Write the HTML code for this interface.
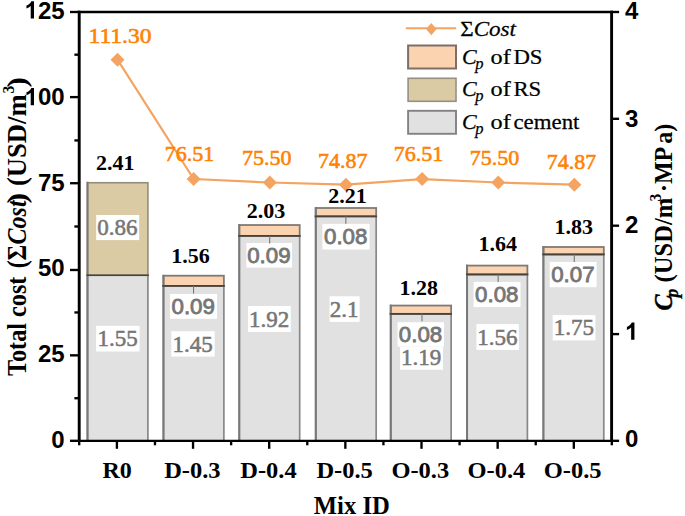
<!DOCTYPE html>
<html><head><meta charset="utf-8"><title>Chart</title>
<style>html,body{margin:0;padding:0;background:#fff}svg{display:block}</style></head>
<body>
<svg width="685" height="516" viewBox="0 0 685 516">
<rect width="685" height="516" fill="#fff"/>
<rect x="87.40" y="275.24" width="60.50" height="165.56" fill="#E1E1E1" stroke="#888888" stroke-width="1.7"/>
<rect x="87.40" y="182.75" width="60.50" height="92.49" fill="#DBCBA5" stroke="#958d7c" stroke-width="1.6"/>
<line x1="87.55" x2="87.55" y1="181.85" y2="440.80" stroke="#787878" stroke-width="2.0"/>
<line x1="86.45" x2="148.75" y1="275.24" y2="275.24" stroke="#47433a" stroke-width="1.7"/>
<rect x="163.37" y="285.96" width="60.50" height="154.84" fill="#E1E1E1" stroke="#888888" stroke-width="1.7"/>
<rect x="163.37" y="275.71" width="60.50" height="10.25" fill="#FBD3B0" stroke="#807a74" stroke-width="1.8"/>
<line x1="163.52" x2="163.52" y1="274.81" y2="440.80" stroke="#787878" stroke-width="2.0"/>
<line x1="162.42" x2="224.72" y1="285.96" y2="285.96" stroke="#47433a" stroke-width="1.7"/>
<rect x="239.18" y="235.88" width="60.50" height="204.92" fill="#E1E1E1" stroke="#888888" stroke-width="1.7"/>
<rect x="239.18" y="225.03" width="60.50" height="10.85" fill="#FBD3B0" stroke="#807a74" stroke-width="1.8"/>
<line x1="239.33" x2="239.33" y1="224.13" y2="440.80" stroke="#787878" stroke-width="2.0"/>
<line x1="238.23" x2="300.53" y1="235.88" y2="235.88" stroke="#47433a" stroke-width="1.7"/>
<rect x="315.67" y="216.28" width="60.50" height="224.52" fill="#E1E1E1" stroke="#888888" stroke-width="1.7"/>
<rect x="315.67" y="208.00" width="60.50" height="8.28" fill="#FBD3B0" stroke="#807a74" stroke-width="1.8"/>
<line x1="315.82" x2="315.82" y1="207.10" y2="440.80" stroke="#787878" stroke-width="2.0"/>
<line x1="314.72" x2="377.02" y1="216.28" y2="216.28" stroke="#47433a" stroke-width="1.7"/>
<rect x="390.65" y="313.83" width="60.50" height="126.97" fill="#E1E1E1" stroke="#888888" stroke-width="1.7"/>
<rect x="390.65" y="305.56" width="60.50" height="8.28" fill="#FBD3B0" stroke="#807a74" stroke-width="1.8"/>
<line x1="390.80" x2="390.80" y1="304.66" y2="440.80" stroke="#787878" stroke-width="2.0"/>
<line x1="389.70" x2="452.00" y1="313.83" y2="313.83" stroke="#47433a" stroke-width="1.7"/>
<rect x="466.90" y="274.47" width="60.50" height="166.33" fill="#E1E1E1" stroke="#888888" stroke-width="1.7"/>
<rect x="466.90" y="265.59" width="60.50" height="8.88" fill="#FBD3B0" stroke="#807a74" stroke-width="1.8"/>
<line x1="467.05" x2="467.05" y1="264.69" y2="440.80" stroke="#787878" stroke-width="2.0"/>
<line x1="465.95" x2="528.25" y1="274.47" y2="274.47" stroke="#47433a" stroke-width="1.7"/>
<rect x="543.30" y="254.40" width="60.50" height="186.40" fill="#E1E1E1" stroke="#888888" stroke-width="1.7"/>
<rect x="543.30" y="247.00" width="60.50" height="7.40" fill="#FBD3B0" stroke="#807a74" stroke-width="1.8"/>
<line x1="543.45" x2="543.45" y1="246.10" y2="440.80" stroke="#787878" stroke-width="2.0"/>
<line x1="542.35" x2="604.65" y1="254.40" y2="254.40" stroke="#47433a" stroke-width="1.7"/>
<g stroke="#000" stroke-width="2.35" fill="none" stroke-linecap="butt">
<path d="M611.8 12.0 H79.2 V440.8 H611.8" stroke-linecap="square"/>
<line x1="611.5999999999999" x2="611.5999999999999" y1="10.85" y2="441.95" stroke-width="2.9"/>
<line x1="79.10000000000001" x2="79.10000000000001" y1="10.85" y2="441.95" stroke-width="2.7"/>
<line x1="70.0" x2="79.2" y1="440.80" y2="440.80"/>
<line x1="70.0" x2="79.2" y1="355.34" y2="355.34"/>
<line x1="70.0" x2="79.2" y1="269.98" y2="269.98"/>
<line x1="70.0" x2="79.2" y1="183.22" y2="183.22"/>
<line x1="70.0" x2="79.2" y1="97.11" y2="97.11"/>
<line x1="70.0" x2="79.2" y1="12.00" y2="12.00"/>
<line x1="74.4" x2="79.2" y1="398.22" y2="398.22"/>
<line x1="74.4" x2="79.2" y1="312.46" y2="312.46"/>
<line x1="74.4" x2="79.2" y1="226.50" y2="226.50"/>
<line x1="74.4" x2="79.2" y1="140.44" y2="140.44"/>
<line x1="74.4" x2="79.2" y1="54.68" y2="54.68"/>
<line x1="611.8" x2="619.0999999999999" y1="440.80" y2="440.80"/>
<line x1="611.8" x2="619.0999999999999" y1="334.10" y2="334.10"/>
<line x1="611.8" x2="619.0999999999999" y1="225.70" y2="225.70"/>
<line x1="611.8" x2="619.0999999999999" y1="118.80" y2="118.80"/>
<line x1="611.8" x2="619.0999999999999" y1="12.00" y2="12.00"/>
<line x1="116.90" x2="116.90" y1="440.8" y2="448.8"/>
<line x1="193.05" x2="193.05" y1="440.8" y2="448.8"/>
<line x1="269.20" x2="269.20" y1="440.8" y2="448.8"/>
<line x1="345.35" x2="345.35" y1="440.8" y2="448.8"/>
<line x1="421.50" x2="421.50" y1="440.8" y2="448.8"/>
<line x1="497.65" x2="497.65" y1="440.8" y2="448.8"/>
<line x1="573.80" x2="573.80" y1="440.8" y2="448.8"/>
<line x1="79.20" x2="79.20" y1="440.8" y2="445.3"/>
<line x1="154.98" x2="154.98" y1="440.8" y2="445.3"/>
<line x1="231.12" x2="231.12" y1="440.8" y2="445.3"/>
<line x1="307.28" x2="307.28" y1="440.8" y2="445.3"/>
<line x1="383.43" x2="383.43" y1="440.8" y2="445.3"/>
<line x1="459.57" x2="459.57" y1="440.8" y2="445.3"/>
<line x1="535.73" x2="535.73" y1="440.8" y2="445.3"/>
<line x1="611.80" x2="611.80" y1="440.8" y2="445.3"/>
</g>
<polyline points="117.50,59.70 193.65,179.04 269.80,182.50 345.95,184.67 422.10,179.04 498.25,182.50 574.40,184.67" fill="none" stroke="#F4A460" stroke-width="2.2"/>
<path d="M117.50 52.70 L124.50 59.70 L117.50 66.70 L110.50 59.70 Z" fill="#F4A460"/>
<path d="M193.65 172.04 L200.65 179.04 L193.65 186.04 L186.65 179.04 Z" fill="#F4A460"/>
<path d="M269.80 175.50 L276.80 182.50 L269.80 189.50 L262.80 182.50 Z" fill="#F4A460"/>
<path d="M345.95 177.67 L352.95 184.67 L345.95 191.67 L338.95 184.67 Z" fill="#F4A460"/>
<path d="M422.10 172.04 L429.10 179.04 L422.10 186.04 L415.10 179.04 Z" fill="#F4A460"/>
<path d="M498.25 175.50 L505.25 182.50 L498.25 189.50 L491.25 182.50 Z" fill="#F4A460"/>
<path d="M574.40 177.67 L581.40 184.67 L574.40 191.67 L567.40 184.67 Z" fill="#F4A460"/>
<g font-family="Liberation Sans, sans-serif" font-weight="bold" font-size="24px" fill="#000">
<text x="64.6" y="448.00" text-anchor="end">0</text>
<text x="64.6" y="361.54" text-anchor="end">25</text>
<text x="64.6" y="275.78" text-anchor="end">50</text>
<text x="64.6" y="190.62" text-anchor="end">75</text>
<path transform="translate(24.57,105.26) scale(0.011719,-0.011719)" d="M805 0H524V1059Q370 915 161 846V1101Q271 1137 400 1237.5Q529 1338 577 1472H805Z"/>
<text x="64.6" y="105.26" text-anchor="end">00</text>
<path transform="translate(24.57,18.50) scale(0.011719,-0.011719)" d="M805 0H524V1059Q370 915 161 846V1101Q271 1137 400 1237.5Q529 1338 577 1472H805Z"/>
<text x="64.6" y="18.50" text-anchor="end">25</text>
<text x="625.0" y="446.90">0</text>
<path transform="translate(625.00,339.80) scale(0.011719,-0.011719)" d="M805 0H524V1059Q370 915 161 846V1101Q271 1137 400 1237.5Q529 1338 577 1472H805Z"/>
<text x="625.0" y="233.40">2</text>
<text x="625.0" y="126.70">3</text>
<text x="625.0" y="18.50">4</text>
</g>
<g font-family="Liberation Serif, serif" font-weight="bold" font-size="24px" fill="#000" text-anchor="middle">
<text transform="translate(117.20,477.5) scale(1.0,1)">R0</text>
<text transform="translate(192.35,477.5) scale(1.02,1)">D-0.3</text>
<text transform="translate(268.50,477.5) scale(1.02,1)">D-0.4</text>
<text transform="translate(344.65,477.5) scale(1.02,1)">D-0.5</text>
<text transform="translate(420.30,477.5) scale(1.02,1)">O-0.3</text>
<text transform="translate(496.45,477.5) scale(1.02,1)">O-0.4</text>
<text transform="translate(572.60,477.5) scale(1.02,1)">O-0.5</text>
<text transform="translate(351.8,513.5) scale(1.027,1.06)">Mix ID</text>
</g>
<g font-family="Liberation Serif, serif" font-weight="bold" font-size="22px" fill="#000" text-anchor="middle">
<text x="115.2" y="170.1">2.41</text>
<text x="190.6" y="263.1">1.56</text>
<text x="265.9" y="217.9">2.03</text>
<text x="347.6" y="202.9">2.21</text>
<text x="418.8" y="295.1">1.28</text>
<text x="497.8" y="250.9">1.64</text>
<text x="573.7" y="233.9">1.83</text>
</g>
<g font-family="Liberation Serif, serif" font-size="22px" fill="#FF8205" stroke="#FF8205" stroke-width="0.6">
<text x="88.50" y="42.8" textLength="63" lengthAdjust="spacingAndGlyphs">111.30</text>
<text x="164.85" y="161.0" textLength="49.5" lengthAdjust="spacingAndGlyphs">76.51</text>
<text x="241.95" y="165.4" textLength="49.5" lengthAdjust="spacingAndGlyphs">75.50</text>
<text x="318.05" y="168.2" textLength="49.5" lengthAdjust="spacingAndGlyphs">74.87</text>
<text x="393.75" y="161" textLength="49.5" lengthAdjust="spacingAndGlyphs">76.51</text>
<text x="469.85" y="165" textLength="49.5" lengthAdjust="spacingAndGlyphs">75.50</text>
<text x="546.75" y="168.8" textLength="49.5" lengthAdjust="spacingAndGlyphs">74.87</text>
</g>
<rect x="96.2" y="215.0" width="43.0" height="25.1" fill="#fff"/>
<text x="117.4" y="235.2" text-anchor="middle" font-family="Liberation Serif, serif" font-size="23px" fill="#767676" stroke="#767676" stroke-width="0.55">0.86</text>
<rect x="96.1" y="325.8" width="43.5" height="25.7" fill="#fff"/>
<text x="117.5" y="346.2" text-anchor="middle" font-family="Liberation Serif, serif" font-size="23px" fill="#767676" stroke="#767676" stroke-width="0.55">1.55</text>
<rect x="170.0" y="294.0" width="47.0" height="24.8" fill="#fff"/>
<text x="193.2" y="314.0" text-anchor="middle" font-family="Liberation Sans, sans-serif" font-size="22.3px" fill="#767676" stroke="#767676" stroke-width="0.85">0.09</text>
<rect x="171.3" y="331.2" width="43.4" height="25.4" fill="#fff"/>
<text x="192.7" y="351.5" text-anchor="middle" font-family="Liberation Serif, serif" font-size="23px" fill="#767676" stroke="#767676" stroke-width="0.55">1.45</text>
<rect x="246.4" y="243.0" width="45.6" height="24.6" fill="#fff"/>
<text x="268.9" y="262.9" text-anchor="middle" font-family="Liberation Sans, sans-serif" font-size="22.3px" fill="#767676" stroke="#767676" stroke-width="0.85">0.09</text>
<rect x="248.0" y="306.0" width="42.8" height="25.9" fill="#fff"/>
<text x="269.1" y="326.6" text-anchor="middle" font-family="Liberation Serif, serif" font-size="23px" fill="#767676" stroke="#767676" stroke-width="0.55">1.92</text>
<rect x="322.4" y="223.9" width="47.2" height="25.6" fill="#fff"/>
<text x="345.7" y="243.7" text-anchor="middle" font-family="Liberation Sans, sans-serif" font-size="22.3px" fill="#767676" stroke="#767676" stroke-width="0.85">0.08</text>
<rect x="329.5" y="296.3" width="30.1" height="25.6" fill="#fff"/>
<text x="344.2" y="316.7" text-anchor="middle" font-family="Liberation Serif, serif" font-size="23px" fill="#767676" stroke="#767676" stroke-width="0.55">2.1</text>
<rect x="397.6" y="322.2" width="46.4" height="24.4" fill="#fff"/>
<text x="420.5" y="342.0" text-anchor="middle" font-family="Liberation Sans, sans-serif" font-size="22.3px" fill="#767676" stroke="#767676" stroke-width="0.85">0.08</text>
<rect x="400.1" y="346.6" width="42.9" height="23.1" fill="#fff"/>
<text x="421.2" y="364.6" text-anchor="middle" font-family="Liberation Serif, serif" font-size="23px" fill="#767676" stroke="#767676" stroke-width="0.55">1.19</text>
<rect x="473.6" y="281.9" width="46.9" height="25.2" fill="#fff"/>
<text x="496.8" y="301.8" text-anchor="middle" font-family="Liberation Sans, sans-serif" font-size="22.3px" fill="#767676" stroke="#767676" stroke-width="0.85">0.08</text>
<rect x="476.4" y="324.1" width="42.5" height="25.8" fill="#fff"/>
<text x="497.3" y="344.6" text-anchor="middle" font-family="Liberation Serif, serif" font-size="23px" fill="#767676" stroke="#767676" stroke-width="0.55">1.56</text>
<rect x="549.7" y="261.9" width="46.9" height="25.3" fill="#fff"/>
<text x="572.9" y="281.8" text-anchor="middle" font-family="Liberation Sans, sans-serif" font-size="22.3px" fill="#767676" stroke="#767676" stroke-width="0.85">0.07</text>
<rect x="552.7" y="315.1" width="42.7" height="25.3" fill="#fff"/>
<text x="573.8" y="335.4" text-anchor="middle" font-family="Liberation Serif, serif" font-size="23px" fill="#767676" stroke="#767676" stroke-width="0.55">1.75</text>
<line x1="193.55" x2="193.55" y1="285.96" y2="293.46" stroke="#777" stroke-width="1.1"/>
<line x1="269.70" x2="269.70" y1="235.88" y2="243.38" stroke="#777" stroke-width="1.1"/>
<line x1="345.85" x2="345.85" y1="216.28" y2="223.78" stroke="#777" stroke-width="1.1"/>
<line x1="422.00" x2="422.00" y1="313.83" y2="321.33" stroke="#777" stroke-width="1.1"/>
<line x1="498.15" x2="498.15" y1="274.47" y2="281.97" stroke="#777" stroke-width="1.1"/>
<line x1="574.30" x2="574.30" y1="254.40" y2="261.90" stroke="#777" stroke-width="1.1"/>
<line x1="405.8" x2="456.2" y1="28.3" y2="28.3" stroke="#F4A460" stroke-width="2.1"/>
<path d="M431.3 22.9 L436.6 29.1 L431.3 35.3 L426 29.1 Z" fill="#F4A460"/>
<rect x="408.1" y="45.5" width="47.9" height="23" fill="#FBD3B0" stroke="#7d6f68" stroke-width="2.0"/>
<rect x="408.1" y="78.30000000000001" width="47.9" height="23" fill="#DBCBA5" stroke="#979080" stroke-width="1.6"/>
<rect x="408.1" y="110.80000000000001" width="47.9" height="23" fill="#E1E1E1" stroke="#828282" stroke-width="1.9"/>
<g font-family="Liberation Serif, serif" font-size="22px" fill="#000" stroke="#000" stroke-width="0.25">
<text transform="translate(460.2,35.6) scale(1.05,1)">Σ<tspan font-style="italic">Cost</tspan></text>
<text x="462" y="63.6" font-style="italic">C</text>
<text x="475.3" y="68.8" font-style="italic" font-size="16.5px">p</text>
<text transform="translate(490.6,63.6) scale(1.1,1)">of</text>
<text transform="translate(513.4,63.6) scale(1.035,1)">DS</text>
<text x="462" y="96.1" font-style="italic">C</text>
<text x="475.3" y="101.3" font-style="italic" font-size="16.5px">p</text>
<text transform="translate(490.6,96.1) scale(1.1,1)">of</text>
<text transform="translate(513.4,96.1) scale(1.035,1)">RS</text>
<text x="462" y="129.2" font-style="italic">C</text>
<text x="475.3" y="134.4" font-style="italic" font-size="16.5px">p</text>
<text transform="translate(490.6,129.2) scale(1.1,1)">of</text>
<text transform="translate(513.4,129.2) scale(1.04,1)">cement</text>
</g>
<g font-family="Liberation Serif, serif" font-weight="bold" font-size="24px" fill="#000">
<g transform="translate(25.7,0) scale(1.13,1) rotate(-90)">
<text x="-376" textLength="99.4" lengthAdjust="spacingAndGlyphs">Total cost</text>
<text x="-268.2">(</text>
<text x="-260.6">Σ</text>
<text x="-244.4" font-style="italic">Cost</text>
<text x="-203.4" textLength="10.6" lengthAdjust="spacingAndGlyphs">)</text>
<text x="-186" textLength="91.6" lengthAdjust="spacingAndGlyphs">(USD/m</text>
<text x="-93.4" y="-10.4" font-size="15.5px">3</text>
<text x="-87.4" textLength="10.4" lengthAdjust="spacingAndGlyphs">)</text>
</g>
<g transform="translate(671.5,0) scale(1.07,1) rotate(-90)">
<text x="-310.4" font-style="italic" stroke="#000" stroke-width="0.4">C</text>
<text x="-297.6" y="6.5" font-style="italic" font-size="17.5px" stroke="#000" stroke-width="0.3">p</text>
<text x="-282.4" textLength="84.6" lengthAdjust="spacingAndGlyphs">(USD/m</text>
<text x="-201.4" y="-9.5" font-size="15.5px">3</text>
<text x="-192" textLength="45.2" lengthAdjust="spacingAndGlyphs">·MP</text>
<text x="-143.8">a)</text>
</g>
</g>
</svg>
</body></html>
